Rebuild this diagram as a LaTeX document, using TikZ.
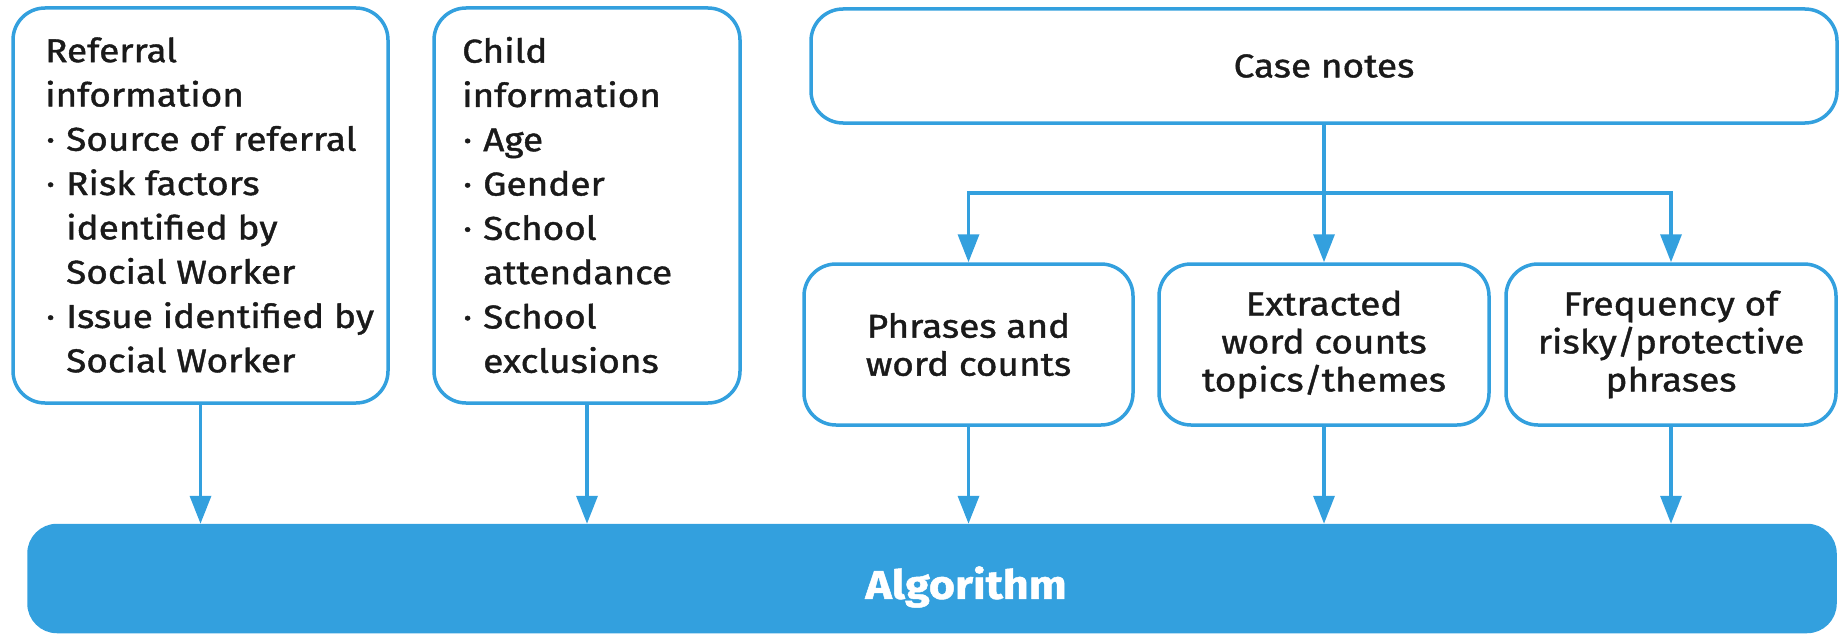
\documentclass[tikz,border=0pt]{standalone}
\usepackage{fontspec}
\setmainfont{Fira Sans}[FakeStretch=1.12, FakeBold=1.2]
\usetikzlibrary{arrows.meta}
\definecolor{blu}{RGB}{51,160,222}
\definecolor{txt}{RGB}{26,26,26}
\newcommand\bl{\makebox[21pt][l]{\hspace{1pt}·}}
\newcommand\ind{\hspace*{21pt}}
\begin{document}
\begin{tikzpicture}[x=1pt,y=-1pt,
  box/.style={draw=blu, line width=3.5pt, rounded corners=32pt, inner sep=0pt, fill=white},
  lbl/.style={text=txt, font=\fontsize{33}{44.3}\selectfont, inner sep=0pt, align=left},
  mid/.style={box, text=txt, font=\fontsize{33}{38}\selectfont, align=center},
  conn/.style={draw=blu, line width=3.5pt, -{Triangle[length=28pt,width=21pt]}},
  ln/.style={draw=blu, line width=3.5pt}]
\useasboundingbox (0,0) rectangle (1846,634);
% left boxes
\node[box, minimum width=375pt, minimum height=395pt] (ref) at (200.5,205.5) {};
\node[lbl, anchor=west] (reft) at (45,205) {Referral\\information\\\bl Source of referral\\\bl Risk factors\\\ind identified by\\\ind Social Worker\\\bl Issue identified by\\\ind Social Worker};
\node[box, minimum width=306pt, minimum height=395pt] (chd) at (587,205.5) {};
\node[lbl, anchor=west] (chdt) at (462,205) {Child\\information\\\bl Age\\\bl Gender\\\bl School\\\ind attendance\\\bl School\\\ind exclusions};
% case notes
\node[mid, minimum width=1026pt, minimum height=114pt] (case) at (1324,66) {Case notes};
\node[mid, minimum width=329pt, minimum height=161pt] (phr) at (968.5,344.5) {Phrases and\\word counts};
\node[mid, minimum width=330pt, minimum height=161pt] (ext) at (1324,344.5) {Extracted\\word counts\\topics/themes};
\node[mid, minimum width=330pt, minimum height=161pt] (frq) at (1671,344.5) {Frequency of\\risky/protective\\phrases};
% algorithm
\node[box, fill=blu, minimum width=1806pt, minimum height=106pt, rounded corners=28pt] (alg) at (932,578.5) {};
\node[text=white, inner sep=0pt, font=\fontsize{40}{48}\selectfont\bfseries] (algt) at (966,587) {Algorithm};
% connectors
\coordinate (br) at (1324,193);
\draw[conn] (case.south) -- (ext.north);
\draw[conn] (br) -| (phr.north);
\draw[conn] (br) -| (frq.north);
\draw[conn] (ref.south) -- (ref.south |- alg.north);
\draw[conn] (chd.south) -- (chd.south |- alg.north);
\draw[conn] (phr.south) -- (phr.south |- alg.north);
\draw[conn] (ext.south) -- (ext.south |- alg.north);
\draw[conn] (frq.south) -- (frq.south |- alg.north);
\end{tikzpicture}
\end{document}
